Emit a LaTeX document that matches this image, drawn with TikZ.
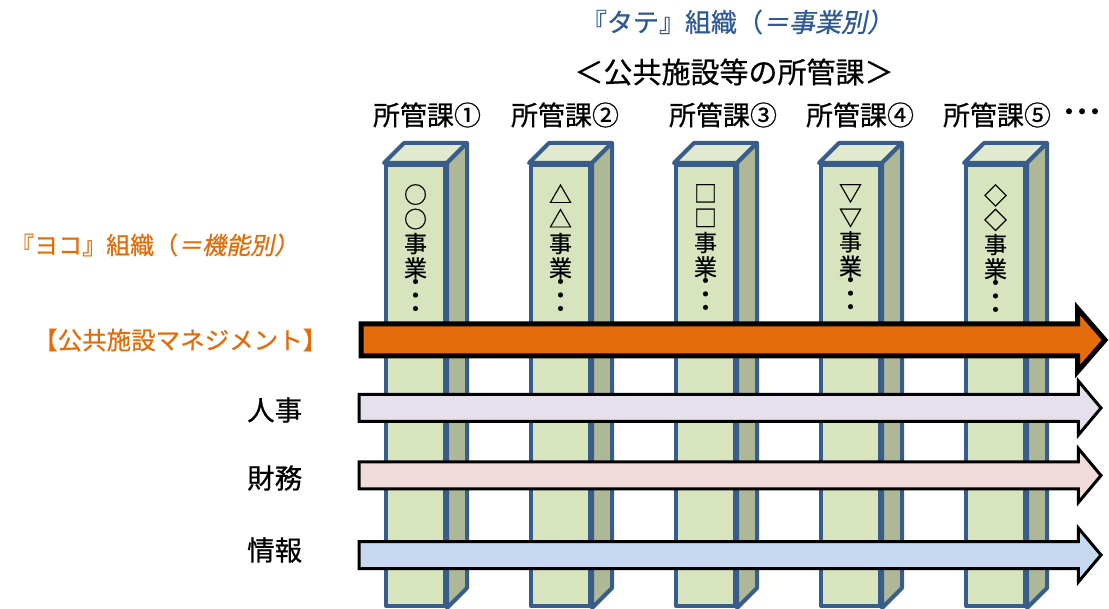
\documentclass[tikz,border=0pt]{standalone}
\usepackage{fontspec}
\setmainfont{Noto Sans CJK JP}[FakeBold=0.6]
\newfontfamily\slantjp[FakeSlant=0.2, FakeBold=0.6]{Noto Sans CJK JP}
\usepackage{xcolor}
\usepackage{tikz}
\usetikzlibrary{shapes.arrows, positioning}
\definecolor{tateblue}{RGB}{45,90,150}
\definecolor{yokoorange}{RGB}{227,108,9}
\definecolor{pillarline}{RGB}{56,93,138}
\definecolor{pillarfront}{RGB}{215,228,189}
\definecolor{pillartop}{RGB}{225,234,206}
\definecolor{pillarside}{RGB}{175,184,150}
\definecolor{mgmtorange}{RGB}{228,108,10}
\definecolor{hrlav}{RGB}{229,224,236}
\definecolor{finpink}{RGB}{242,220,219}
\definecolor{infoblue}{RGB}{198,217,241}
\tikzstyle{label} = [inner sep=0pt, font=\fontsize{27}{30}\selectfont]
\tikzstyle{face} = [draw=pillarline, line width=4pt, line join=round]
\tikzstyle{front} = [face, rectangle, fill=pillarfront, minimum width=59pt, minimum height=441pt, inner sep=0pt]
\tikzstyle{ptext} = [inner sep=0pt, align=center, font=\fontsize{23}{24.5}\selectfont]
\tikzstyle{band} = [single arrow, draw=black, line width=3pt, inner xsep=0pt, inner ysep=12pt, single arrow head extend=13.5pt, single arrow head indent=0pt, single arrow tip angle=100, minimum height=742pt, anchor=tail]
% one pillar: name, centre x, symbol
\newcommand{\pillar}[3]{%
  \node[front] (#1) at (#2,385.5) {};
  \draw[face, fill=pillartop] (#1.north west) -- ++(20,-20) -- ([shift={(20,-20)}]#1.north east) -- (#1.north east) -- cycle;
  \draw[face, fill=pillarside] (#1.north east) -- ++(20,-20) -- ([shift={(20,-20)}]#1.south east) -- (#1.south east) -- cycle;
  \node[ptext, anchor=north] (#1-txt) at (#2,184) {#3\\#3\\事\\業\\[-11pt]・\\[-11pt]・\\[-11pt]・};
}

\begin{document}
\begin{tikzpicture}[x=1pt, y=-1pt]
    \useasboundingbox (0,0) rectangle (1109,609);

    % Top: vertical organisation
    \node[label, font=\fontsize{26}{30}\selectfont, text=tateblue] (tate) at (737,22) {『タテ』組織（{\slantjp ＝事業別）}};
    \node[label, font=\fontsize{29}{32}\selectfont] (tate_sub) at (734,72) {＜公共施設等の所管課＞};
    \node[label] (sec1) at (427,115) {所管課①};
    \node[label] (sec2) at (565,115) {所管課②};
    \node[label] (sec3) at (723,115) {所管課③};
    \node[label] (sec4) at (860,115) {所管課④};
    \node[label] (sec5) at (997,115) {所管課⑤};
    \node[label] (more) at (1082,115) {・\kern-14pt・\kern-14pt・};

    % Pillars
    \pillar{p1}{415.5}{○}
    \pillar{p2}{560.5}{△}
    \pillar{p3}{705.5}{□}
    \pillar{p4}{850.5}{▽}
    \pillar{p5}{995.5}{◇}

    % Left: horizontal organisation
    \node[label, anchor=west, text=yokoorange, font=\fontsize{24}{28}\selectfont] (yoko) at (10,245) {『ヨコ』組織（{\slantjp ＝機能別）}};
    \node[label, anchor=west, text=yokoorange, font=\fontsize{24.5}{28}\selectfont] (mgmt_lbl) at (33,340) {【公共施設マネジメント】};
    \node[label, anchor=west, font=\fontsize{27.5}{30}\selectfont] (hr_lbl) at (247,410) {人事};
    \node[label, anchor=west, font=\fontsize{27.5}{30}\selectfont] (fin_lbl) at (247,478) {財務};
    \node[label, anchor=west, font=\fontsize{27.5}{30}\selectfont] (info_lbl) at (247,550) {情報};

    % Arrows across the pillars
    \node[band, line width=5pt, fill=mgmtorange, inner ysep=13.5pt, single arrow head extend=15.5pt, minimum height=744pt, single arrow tip angle=98] (mgmt) at (358.5,340) {};
    \node[band, fill=hrlav] (hr) at (357.5,408) {};
    \node[band, fill=finpink] (fin) at (357.5,475.5) {};
    \node[band, fill=infoblue] (info) at (357.5,555) {};
\end{tikzpicture}
\end{document}
